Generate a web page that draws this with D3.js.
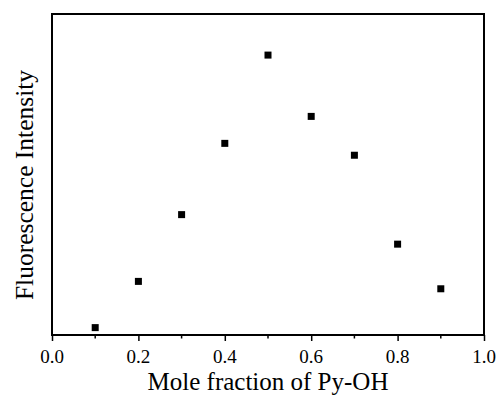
<!DOCTYPE html>
<html>
<head>
<meta charset="utf-8">
<script src="https://cdn.jsdelivr.net/npm/d3@7"></script>
<style>
  body { margin: 0; background: #fff; }
  text.serif { font-family: "Liberation Serif", "Times New Roman", Times, serif; fill: #000; }
</style>
</head>
<body id="body">
<script>
const moleFraction = [0.1, 0.2, 0.3, 0.4, 0.5, 0.6, 0.7, 0.8, 0.9];
const intensity = [2.3, 16.7, 37.5, 59.7, 87.2, 68.1, 56.0, 28.3, 14.4];
const xTicks = [0.0, 0.2, 0.4, 0.6, 0.8, 1.0];
const xMinorTicks = [0.1, 0.3, 0.5, 0.7, 0.9];

const width = 497, height = 395;
const margin = { top: 14, right: 13, bottom: 60, left: 52 };

const svg = d3.select("body")
  .append("svg")
  .attr("width", width)
  .attr("height", height);

const x = d3.scaleLinear().domain([0, 1]).range([margin.left, width - margin.right]);
const y = d3.scaleLinear().domain([0, 100]).range([height - margin.bottom, margin.top]);

// frame
svg.append("rect")
  .attr("x", x(0))
  .attr("y", y(100))
  .attr("width", x(1) - x(0))
  .attr("height", y(0) - y(100))
  .attr("fill", "none")
  .attr("stroke", "#000")
  .attr("stroke-width", 2);

// bottom axis: tick marks from d3.axisBottom, labels drawn as plain text
const xAxis = svg.append("g")
  .attr("transform", `translate(0,${y(0)})`)
  .call(d3.axisBottom(x).tickValues(xTicks).tickFormat("").tickSize(6));
xAxis.select(".domain").remove();
xAxis.selectAll("line").attr("stroke-width", 1.5);

svg.append("g")
  .selectAll("text")
  .data(xTicks)
  .join("text")
  .attr("class", "serif")
  .attr("x", d => x(d))
  .attr("y", y(0) + 28)
  .attr("text-anchor", "middle")
  .style("font-size", "19px")
  .text(d3.format(".1f"));

svg.append("g")
  .selectAll("line")
  .data(xMinorTicks)
  .join("line")
  .attr("x1", d => x(d)).attr("x2", d => x(d))
  .attr("y1", y(0)).attr("y2", y(0) + 3.5)
  .attr("stroke", "#000")
  .attr("stroke-width", 1.5);

// points
svg.append("g")
  .selectAll("rect")
  .data(moleFraction)
  .join("rect")
  .attr("x", (d, i) => x(d) - 3.5)
  .attr("y", (d, i) => y(intensity[i]) - 3.5)
  .attr("width", 7)
  .attr("height", 7)
  .attr("fill", "#000");

// labels
svg.append("text")
  .attr("class", "serif")
  .attr("x", (x(0) + x(1)) / 2)
  .attr("y", 390)
  .attr("text-anchor", "middle")
  .style("font-size", "25px")
  .text("Mole fraction of Py-OH");

svg.append("text")
  .attr("class", "serif")
  .attr("transform", `translate(33,185) rotate(-90)`)
  .attr("text-anchor", "middle")
  .style("font-size", "25.5px")
  .text("Fluorescence Intensity");
</script>
</body>
</html>
